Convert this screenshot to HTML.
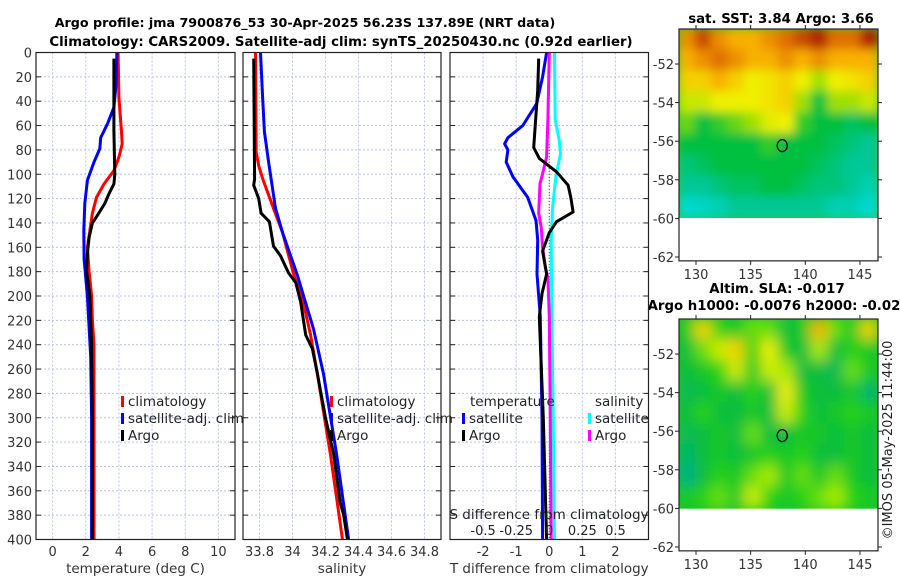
<!DOCTYPE html>
<html><head><meta charset="utf-8">
<style>
html,body{margin:0;padding:0;background:#fff;}
svg{display:block;font-family:"DejaVu Sans","Liberation Sans",sans-serif;}
</style></head>
<body>
<svg id="fig" width="900" height="580" viewBox="0 0 900 580" xmlns="http://www.w3.org/2000/svg">
<defs>
<filter id="blur" x="-10%" y="-10%" width="120%" height="120%"><feGaussianBlur stdDeviation="5"/></filter>
<filter id="blur2" x="-10%" y="-10%" width="120%" height="120%"><feGaussianBlur stdDeviation="7"/></filter>
<clipPath id="clipA"><rect x="679" y="29" width="199" height="189"/></clipPath>
<clipPath id="clipB"><rect x="679" y="319" width="199" height="190"/></clipPath>
</defs>
<text x="305" y="27" text-anchor="middle" font-size="12.7" font-weight="bold">Argo profile: jma 7900876_53 30-Apr-2025 56.23S 137.89E (NRT data)</text>
<text x="341" y="46" text-anchor="middle" font-size="13.3" font-weight="bold">Climatology: CARS2009. Satellite-adj clim: synTS_20250430.nc (0.92d earlier)</text>
<text x="781" y="23" text-anchor="middle" font-size="13.3" font-weight="bold">sat. SST: 3.84 Argo: 3.66</text>
<text x="777" y="293" text-anchor="middle" font-size="13.3" font-weight="bold">Altim. SLA: -0.017</text>
<text x="774" y="310" text-anchor="middle" font-size="13.3" font-weight="bold">Argo h1000: -0.0076 h2000: -0.02</text>
<text x="0" y="0" transform="translate(892,440) rotate(-90)" text-anchor="middle" font-size="13" fill="#222">©IMOS 05-May-2025 11:44:00</text>
</svg>
<script>
// ---------- data ----------
const depthTicks = [0,20,40,60,80,100,120,140,160,180,200,220,240,260,280,300,320,340,360,380,400];
const tempTicks = [0,2,4,6,8,10];
const salTicks = [33.8,34,34.2,34.4,34.6,34.8];
const salTickLabels = ["33.8","34","34.2","34.4","34.6","34.8"];
const tdiffTicks = [-2,-1,0,1,2];
const sdiffTicks = [-0.5,-0.25,0,0.25,0.5];

const tClimDepth = [0,37,64,75,86,97,108,119,132,146,160,180,200,220,240,300,400];
const tClimVal   = [3.95,4.0,4.15,4.2,4.0,3.7,3.1,2.65,2.4,2.25,2.1,2.2,2.35,2.4,2.5,2.5,2.5];
const tSatDepth  = [0,28,45,58,70,79,90,105,124,146,170,200,250,300,400];
const tSatVal    = [3.88,3.82,3.7,3.33,2.9,2.85,2.5,2.1,1.94,1.88,1.9,2.1,2.3,2.35,2.35];
const tArgoDepth = [5,64,100,108,116,124,136,140,152,165,180,200,240,300,400];
const tArgoVal   = [3.7,3.7,3.75,3.7,3.4,3.15,2.6,2.4,2.2,2.1,2.05,2.25,2.35,2.4,2.4];

const sClimDepth = [0,82,93,104,128,148,181,208,232,263,330,400];
const sClimVal   = [33.776,33.78,33.795,33.82,33.885,33.94,34.005,34.07,34.11,34.15,34.23,34.303];
const sSatDepth  = [0,35,65,90,128,148,183,227,264,330,400];
const sSatVal    = [33.806,33.818,33.83,33.855,33.897,33.94,34.03,34.127,34.188,34.267,34.34];
const sArgoDepth = [5,104,109,120,132,139,159,167,181,189,205,232,243,263,300,330,370,380,400];
const sArgoVal   = [33.765,33.77,33.765,33.795,33.81,33.86,33.885,33.927,33.976,34.02,34.05,34.08,34.12,34.15,34.2,34.25,34.29,34.31,34.333];

const dtSatDepth = [0,20,42,60,70,75,80,90,102,119,138,154,182,217,300,400];
const dtSatVal   = [-0.08,-0.2,-0.38,-0.8,-1.25,-1.35,-1.25,-1.3,-1.1,-0.65,-0.4,-0.35,-0.37,-0.27,-0.22,-0.2];
const dtArgoDepth = [5,31,58,78,87,98,109,119,131,139,148,154,163,182,198,217,300,400];
const dtArgoVal   = [-0.32,-0.35,-0.42,-0.47,-0.3,0.22,0.57,0.65,0.72,0.22,0,-0.08,-0.2,-0.08,-0.22,-0.3,-0.18,-0.08];
const dsArgoDepth = [0,55,86,108,132,144,160,176,185,217,300,400];
const dsArgoVal   = [0,-0.01,-0.02,-0.07,-0.08,-0.06,-0.05,-0.03,-0.01,0,0.008,0.015];
const dsSatDepth  = [0,55,72,83,102,127,154,217,300,400];
const dsSatVal    = [0.04,0.045,0.075,0.085,0.05,0.025,0.015,0.02,0.03,0.04];

const mapLonTicks = [130,135,140,145];
const mapLatTicks = [-52,-54,-56,-58,-60,-62];
const floatLon = 137.89, floatLat = -56.23;
const sstGrid = [
 [.85,.95,.85,.8,.8,.85,.9,.95,1,.9,.9,1],
 [.8,.85,.9,.85,.8,.8,.85,.8,.85,.8,.8,.8],
 [.75,.75,.8,.75,.7,.72,.75,.7,.6,.7,.72,.75],
 [.65,.65,.7,.7,.7,.72,.75,.6,.45,.6,.6,.65],
 [.55,.45,.5,.55,.6,.68,.7,.5,.45,.45,.4,.45],
 [.45,.45,.45,.45,.45,.5,.45,.45,.45,.4,.35,.3],
 [.35,.4,.45,.45,.45,.45,.45,.45,.4,.35,.3,.3],
 [.3,.3,.35,.4,.4,.45,.45,.4,.35,.35,.3,.25],
 [.2,.22,.25,.3,.3,.3,.3,.3,.3,.25,.25,.2]];
const slaGrid = [
 [.5,.8,.55,.5,.6,.6,.45,.5,.85,.6,.5,.8],
 [.45,.6,.7,.8,.55,.75,.5,.45,.65,.45,.55,.5],
 [.45,.5,.55,.7,.5,.7,.65,.45,.45,.4,.6,.5],
 [.4,.45,.5,.45,.55,.45,.75,.5,.45,.45,.5,.35],
 [.45,.55,.45,.45,.5,.45,.7,.55,.45,.5,.55,.5],
 [.4,.45,.5,.45,.6,.45,.45,.5,.5,.45,.5,.45],
 [.35,.45,.5,.45,.5,.55,.5,.55,.45,.45,.5,.45],
 [.3,.45,.55,.5,.6,.65,.5,.6,.5,.6,.5,.45],
 [.5,.55,.6,.5,.7,.55,.5,.55,.6,.65,.55,.5]];

// ---------- helpers ----------
const NS = "http://www.w3.org/2000/svg";
const svg = document.getElementById('fig');
function mk(tag, attrs, parent){
  const e = document.createElementNS(NS, tag);
  for (const k in attrs) e.setAttribute(k, attrs[k]);
  (parent||svg).appendChild(e);
  return e;
}
const Y0 = 52.5, Y1 = 539.5;
const yD = d => Y0 + (d/400)*(Y1-Y0);
function xScale(x0,x1,v0,v1){ return v => x0 + (v-v0)/(v1-v0)*(x1-x0); }

const panels = [
  {name:'temperature-panel', x0:36, x1:235, v0:-1, v1:11, ticks:tempTicks, labels:tempTicks.map(String), title:'temperature (deg C)'},
  {name:'salinity-panel', x0:243, x1:441, v0:33.7, v1:34.9, ticks:salTicks, labels:salTickLabels, title:'salinity'},
  {name:'difference-panel', x0:450, x1:648.5, v0:-3, v1:3, ticks:tdiffTicks, labels:tdiffTicks.map(String), title:'T difference from climatology'}
];
panels.forEach((p,pi) => {
  const g = mk('g', {});
  
  
  p.x = xScale(p.x0,p.x1,p.v0,p.v1);
  p.g = g;
  p.ticks.forEach(t => {
    const l = mk('line', {x1:p.x(t), x2:p.x(t), y1:Y0, y2:Y1, stroke:'#b8c4e8', 'stroke-width':1, 'stroke-dasharray':'2,2'}, g);
    
    
  });
  depthTicks.forEach(d => {
    if (d===0||d===400) return;
    const l = mk('line', {x1:p.x0, x2:p.x1, y1:yD(d), y2:yD(d), stroke:'#b8c4e8', 'stroke-width':1, 'stroke-dasharray':'2,2'}, g);
    
    
    mk('line', {x1:p.x0, x2:p.x0+5, y1:yD(d), y2:yD(d), stroke:'#222'}, g);
    mk('line', {x1:p.x1-5, x2:p.x1, y1:yD(d), y2:yD(d), stroke:'#222'}, g);
  });
  p.ticks.forEach((t,i) => {
    const tx = mk('text', {x:p.x(t), y:556, 'text-anchor':'middle', 'font-size':13, fill:'#333'}, g);
    tx.textContent = p.labels[i];
    
    
  });
  const at = mk('text', {x:(p.x0+p.x1)/2, y:573, 'text-anchor':'middle', 'font-size':13.5, fill:'#333'}, g);
  at.textContent = p.title;
  
  
});
depthTicks.forEach(d => {
  const t = mk('text', {x:32, y:yD(d)+5, 'text-anchor':'end', 'font-size':13, fill:'#333'});
  t.textContent = d;
  
  
});

function profile(g, xf, depths, vals, color, name, w){
  const pts = depths.map((d,i) => xf(vals[i]).toFixed(1)+','+yD(d).toFixed(1)).join(' ');
  const pl = mk('polyline', {points:pts, fill:'none', stroke:color, 'stroke-width':w||3, 'stroke-linejoin':'round'}, g);
  
  
}
const P1 = panels[0], P2 = panels[1], P3 = panels[2];
profile(P1.g, P1.x, tClimDepth, tClimVal, '#ff0000', 'temperature-climatology-line');
profile(P1.g, P1.x, tSatDepth, tSatVal, '#0000ff', 'temperature-satellite-line');
profile(P1.g, P1.x, tArgoDepth, tArgoVal, '#000000', 'temperature-argo-line');
profile(P2.g, P2.x, sClimDepth, sClimVal, '#ff0000', 'salinity-climatology-line');
profile(P2.g, P2.x, sSatDepth, sSatVal, '#0000ff', 'salinity-satellite-line');
profile(P2.g, P2.x, sArgoDepth, sArgoVal, '#000000', 'salinity-argo-line');
const xS = xScale(P3.x0, P3.x1, -0.75, 0.75);
const zl = mk('line', {x1:P3.x(0), x2:P3.x(0), y1:yD(75), y2:Y1, stroke:'#335533', 'stroke-width':1, 'stroke-dasharray':'1,2'}, P3.g);


profile(P3.g, P3.x, dtSatDepth, dtSatVal, '#0000ff', 'tdiff-satellite-line');
profile(P3.g, xS, dsSatDepth, dsSatVal, '#00ffff', 'sdiff-satellite-line');
profile(P3.g, xS, dsArgoDepth, dsArgoVal, '#ff00ff', 'sdiff-argo-line');
profile(P3.g, P3.x, dtArgoDepth, dtArgoVal, '#000000', 'tdiff-argo-line');
sdiffTicks.forEach(s => {
  const t = mk('text', {x:xS(s), y:535, 'text-anchor':'middle', 'font-size':13, fill:'#222'}, P3.g);
  t.textContent = String(s);
  
  
});
{
  const t = mk('text', {x:549, y:519, 'text-anchor':'middle', 'font-size':13.5, fill:'#222'}, P3.g);
  t.textContent = 'S difference from climatology';
  
  
}
panels.forEach(p => {
  const r = mk('rect', {x:p.x0, y:Y0, width:p.x1-p.x0, height:Y1-Y0, fill:'none', stroke:'#222', 'stroke-width':1.2}, p.g);
  
  
});

function legendItem(x, y, color, label, name){
  const g = mk('g', {});
  
  
  if (color) mk('rect', {x:x, y:y-9, width:3, height:11, fill:color}, g);
  const t = mk('text', {x:x+(color?7:0), y:y+1, 'font-size':13.5, fill:'#222'}, g);
  t.textContent = label;
}
legendItem(121, 405, '#ff0000', 'climatology', 'legend-climatology');
legendItem(121, 422, '#0000ff', 'satellite-adj. clim', 'legend-satellite-adj');
legendItem(121, 439, '#000000', 'Argo', 'legend-argo');
legendItem(330, 405, '#ff0000', 'climatology', 'legend-climatology-sal');
legendItem(330, 422, '#0000ff', 'satellite-adj. clim', 'legend-satellite-adj-sal');
legendItem(330, 439, '#000000', 'Argo', 'legend-argo-sal');
legendItem(470, 405, null, 'temperature', 'legend-temperature-header');
legendItem(462, 422, '#0000ff', 'satellite', 'legend-t-satellite');
legendItem(462, 439, '#000000', 'Argo', 'legend-t-argo');
legendItem(595, 405, null, 'salinity', 'legend-salinity-header');
legendItem(588, 422, '#00ffff', 'satellite', 'legend-s-satellite');
legendItem(588, 439, '#ff00ff', 'Argo', 'legend-s-argo');

// ---------- maps ----------
const MX0 = 679, MX1 = 878;
const lonX = lon => 696 + (lon-130)*10.93;
function palSST(v){
  const st=[[0,[0,150,255]],[0.2,[0,216,208]],[0.3,[0,200,150]],[0.45,[0,192,64]],[0.6,[160,224,0]],[0.7,[240,240,0]],[0.8,[248,176,0]],[0.9,[224,112,0]],[1,[176,32,0]]];
  for (let i=1;i<st.length;i++){ if (v<=st[i][0]){ const a=st[i-1],b=st[i],f=(v-a[0])/(b[0]-a[0]); return 'rgb('+a[1].map((c,k)=>Math.round(c+(b[1][k]-c)*f)).join(',')+')'; } }
  return 'rgb(176,32,0)';
}
function palSLA(v){
  const st=[[0.3,[0,176,140]],[0.45,[10,190,60]],[0.55,[40,210,20]],[0.65,[170,235,0]],[0.75,[240,240,0]],[0.85,[245,180,0]]];
  if (v<=st[0][0]) return 'rgb(0,176,140)';
  for (let i=1;i<st.length;i++){ if (v<=st[i][0]){ const a=st[i-1],b=st[i],f=(v-a[0])/(b[0]-a[0]); return 'rgb('+a[1].map((c,k)=>Math.round(c+(b[1][k]-c)*f)).join(',')+')'; } }
  return 'rgb(245,180,0)';
}
function drawMap(name, top, grid, pal, clip, base, filt){
  const latY = lat => top + 35 + (-52-lat)*19.3;
  const g = mk('g', {});
  
  
  const yb = latY(-60);
  const field = mk('g', {'clip-path':'url(#'+clip+')'}, g);
  mk('rect', {x:MX0, y:top, width:MX1-MX0, height:yb-top, fill:base}, field);
  const bl = mk('g', {filter:'url(#'+filt+')'}, field);
  const rows = grid.length, cols = grid[0].length;
  const cw = (MX1-MX0)/cols, ch = (yb-top)/rows;
  grid.forEach((row,r) => row.forEach((v,c) => {
    mk('rect', {x:MX0+c*cw-1, y:top+r*ch-1, width:cw+2, height:ch+2, fill:pal(v)}, bl);
  }));
  const bottom = latY(-62.2);
  const fr = mk('rect', {x:MX0, y:top, width:MX1-MX0, height:bottom-top, fill:'none', stroke:'#222', 'stroke-width':1.2}, g);
  
  
  mapLatTicks.forEach(lat => {
    const y = latY(lat);
    mk('line', {x1:MX0-4, x2:MX0, y1:y, y2:y, stroke:'#222'}, g);
    mk('line', {x1:MX1, x2:MX1+4, y1:y, y2:y, stroke:'#222'}, g);
    const t = mk('text', {x:MX0-5, y:y+5, 'text-anchor':'end', 'font-size':13, fill:'#333'}, g);
    t.textContent = lat;
    
    
  });
  mapLonTicks.forEach(lon => {
    const x = lonX(lon);
    mk('line', {x1:x, x2:x, y1:bottom, y2:bottom+4, stroke:'#222'}, g);
    mk('line', {x1:x, x2:x, y1:top-4, y2:top, stroke:'#222'}, g);
    const t = mk('text', {x:x, y:bottom+18, 'text-anchor':'middle', 'font-size':13, fill:'#333'}, g);
    t.textContent = lon;
    
    
  });
  const m = mk('ellipse', {cx:lonX(floatLon), cy:latY(floatLat), rx:5, ry:6, fill:'none', stroke:'#000', 'stroke-width':1.3}, g);
  
  
}
drawMap('sst-map', 29, sstGrid, palSST, 'clipA', palSST(0.5), 'blur');
drawMap('sla-map', 319, slaGrid, palSLA, 'clipB', palSLA(0.5), 'blur2');
</script>
</body></html>
